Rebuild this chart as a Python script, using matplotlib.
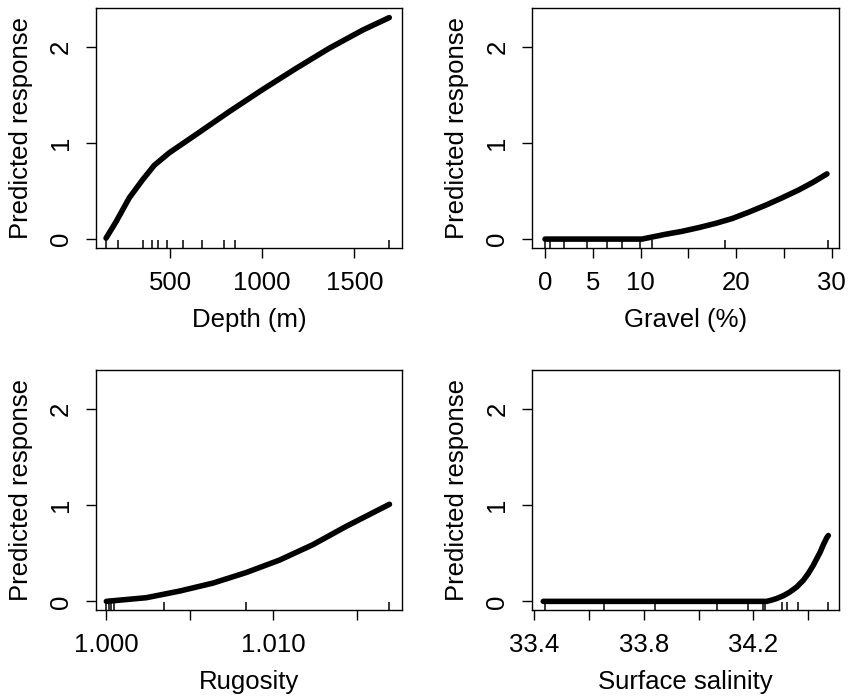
import numpy as np
import matplotlib.pyplot as plt

plt.rcParams['font.family'] = ['Liberation Sans', 'DejaVu Sans']

# partial dependence curves
depth_x = [153, 207, 279, 352, 415, 496, 641, 822, 1003, 1184, 1364, 1546, 1690]
depth_y = [0.01, 0.18, 0.43, 0.62, 0.77, 0.90, 1.09, 1.33, 1.56, 1.78, 1.99, 2.18, 2.31]
depth_rug = [151, 219, 355, 404, 433, 482, 569, 672, 795, 853, 1689]

gravel_x = [0, 5, 10.15, 12.6, 14.3, 16.1, 17.9, 19.6, 21.3, 23.1, 24.8, 26.5, 28.0, 29.5]
gravel_y = [0, 0, 0.0, 0.05, 0.08, 0.12, 0.165, 0.215, 0.28, 0.354, 0.43, 0.51, 0.59, 0.68]
gravel_rug = [0, 0.52, 2.0, 4.43, 6.46, 8.03, 9.94, 11.2, 18.8, 29.6]

rug_x = [1.0000, 1.00239, 1.00438, 1.00638, 1.00837, 1.01037, 1.01236, 1.01435, 1.01694]
rug_y = [0.0, 0.038, 0.107, 0.19, 0.30, 0.43, 0.59, 0.78, 1.01]
rug_rug = [1.0000, 1.00014, 1.00028, 1.00048, 1.00347, 1.00836, 1.01693]

sal_x = [33.433, 33.8, 34.248, 34.265, 34.285, 34.31, 34.333, 34.358, 34.382, 34.40, 34.418, 34.43, 34.443, 34.455, 34.467, 34.473]
sal_y = [0.0, 0.0, 0.0, 0.012, 0.03, 0.06, 0.098, 0.15, 0.22, 0.29, 0.374, 0.44, 0.51, 0.59, 0.66, 0.685]
sal_rug = [33.439, 33.654, 33.840, 34.066, 34.181, 34.234, 34.242, 34.303, 34.321, 34.364, 34.471]

panels = [
    dict(x=depth_x, y=depth_y, rug=depth_rug, xlab='Depth (m)', xlim=(98.5, 1759),
         ticks=[500, 1000, 1500], labels=['500', '1000', '1500'],
         pos=[96/848, 1-248/696, 306/848, 240/696]),
    dict(x=gravel_x, y=gravel_y, rug=gravel_rug, xlab='Gravel (%)', xlim=(-1.33, 30.76),
         ticks=[0, 5, 10, 15, 20, 25, 30], labels=['0', '5', '10', '', '20', '', '30'],
         pos=[532.3/848, 1-248/696, 306.7/848, 240/696]),
    dict(x=rug_x, y=rug_y, rug=rug_rug, xlab='Rugosity', xlim=(0.99938, 1.01769),
         ticks=[1.000, 1.005, 1.010, 1.015], labels=['1.000', '', '1.010', ''],
         pos=[96/848, 1-610.3/696, 306/848, 240.6/696]),
    dict(x=sal_x, y=sal_y, rug=sal_rug, xlab='Surface salinity', xlim=(33.393, 34.512),
         ticks=[33.4, 33.6, 33.8, 34.0, 34.2, 34.4], labels=['33.4', '', '33.8', '', '34.2', ''],
         pos=[532.3/848, 1-610.3/696, 306.7/848, 240.6/696]),
]

fig = plt.figure(figsize=(8.48, 6.96), dpi=100)

for p in panels:
    ax = fig.add_axes(p['pos'])
    ax.plot(p['x'], p['y'], color='black', lw=4, solid_capstyle='round', solid_joinstyle='round')
    ax.vlines(p['rug'], 0, 0.033, transform=ax.get_xaxis_transform(), color='black', lw=1.1)
    ax.set_xlim(p['xlim'])
    ax.set_ylim(-0.093, 2.41)
    ax.set_xticks(p['ticks'])
    ax.set_xticklabels(p['labels'])
    ax.set_yticks([0, 1, 2])
    ax.set_yticklabels(['0', '1', '2'], rotation=90, va='center')
    ax.tick_params(axis='both', length=7.5, width=1, labelsize=18.5, color='black')
    ax.tick_params(axis='x', pad=9)
    ax.tick_params(axis='y', pad=9)
    for s in ax.spines.values():
        s.set_linewidth(1)
    ax.set_xlabel(p['xlab'], fontsize=18.5)
    ax.set_ylabel('Predicted response', fontsize=18.5)
    ax.xaxis.set_label_coords(0.5, -0.30)
    ax.xaxis.label.set_va('center')
    ax.yaxis.set_label_coords(-0.245, 0.5)
    ax.yaxis.label.set_va('center')

fig.savefig('out.png', dpi=100)
